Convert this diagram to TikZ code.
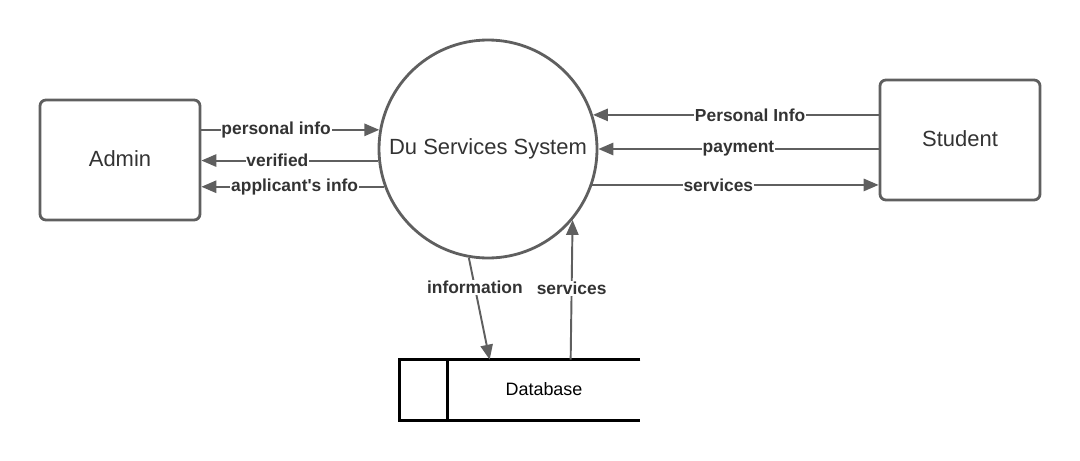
\documentclass[tikz,border=0pt]{standalone}
\usepackage{fontspec}
\setmainfont{Liberation Sans}
\usetikzlibrary{arrows.meta}
\definecolor{linegray}{HTML}{5F5F5F}
\definecolor{textgray}{HTML}{333333}

\tikzset{entity/.style = {shape = rectangle,
                          rounded corners = 3.4pt,
                          draw = linegray,
                          line width = 1.6pt,
                          minimum width = 3.2cm,
                          minimum height = 2.4cm,
                          text = textgray,
                          font = \fontsize{12.5}{15}\selectfont},
         process/.style = {shape = circle,
                          draw = linegray,
                          line width = 1.6pt,
                          inner sep = 0pt,
                          minimum size = 4.36cm,
                          text = textgray,
                          font = \fontsize{12.5}{15}\selectfont},
         store/.style = {shape = rectangle,
                          inner sep = 0pt,
                          minimum width = 3.84cm,
                          minimum height = 1.2cm,
                          font = \fontsize{10.2}{12}\selectfont},
         flow/.style = {draw = linegray,
                          line width = 1.1pt,
                          -{Triangle[length=8.5pt,width=7pt]}},
         lbl/.style = {fill = white,
                          inner sep = 0.5pt,
                          text = textgray,
                          font = \fontsize{9.9}{12}\selectfont\bfseries}}

\begin{document}
\begin{tikzpicture}
		\useasboundingbox (0,0) rectangle (21.6,9.2);
		\node[entity] (admin) at (2.4,6.0) {\raisebox{1.5pt}{Admin}};
		\node[process] (sys) at (9.76,6.22) {Du Services System};
		\node[entity] (student) at (19.2,6.4) {\raisebox{1.5pt}{Student}};
		\node[store] (db) at (10.88,1.4) {\raisebox{1.5pt}{Database}};
		\draw[line width = 1.4pt] (db.north east) -- ([xshift=-0.96cm]db.north west) -- ([xshift=-0.96cm]db.south west) -- (db.south east);
		\draw[line width = 1.4pt] (db.north west) -- (db.south west);
		\coordinate (dbin) at ([xshift=0.84cm]db.north west);
		\coordinate (dbout) at ([xshift=2.46cm]db.north west);
		\path (admin.east |- sys.170) edge[flow] node[lbl, pos=0.42] {personal info} (sys.170);
		\path (sys.186) edge[flow] node[lbl, pos=0.57] {verified} (admin.east |- sys.186);
		\path (sys.200) edge[flow] node[lbl, pos=0.49] {applicant\textquotesingle s info} (admin.east |- sys.200);
		\path (student.west |- sys.18) edge[flow] node[lbl, pos=0.45] {Personal Info} (sys.18);
		\path (student.west |- sys.0) edge[flow] node[lbl, pos=0.5] {payment} (sys.0);
		\path (sys.341) edge[flow] node[lbl, pos=0.44] {services} (student.west |- sys.341);
		\path (sys.260) edge[flow] node[lbl, pos=0.29] {information} (dbin);
		\path (dbout) edge[flow] node[lbl, pos=0.51] {services} (sys.320);
	\end{tikzpicture}
\end{document}
